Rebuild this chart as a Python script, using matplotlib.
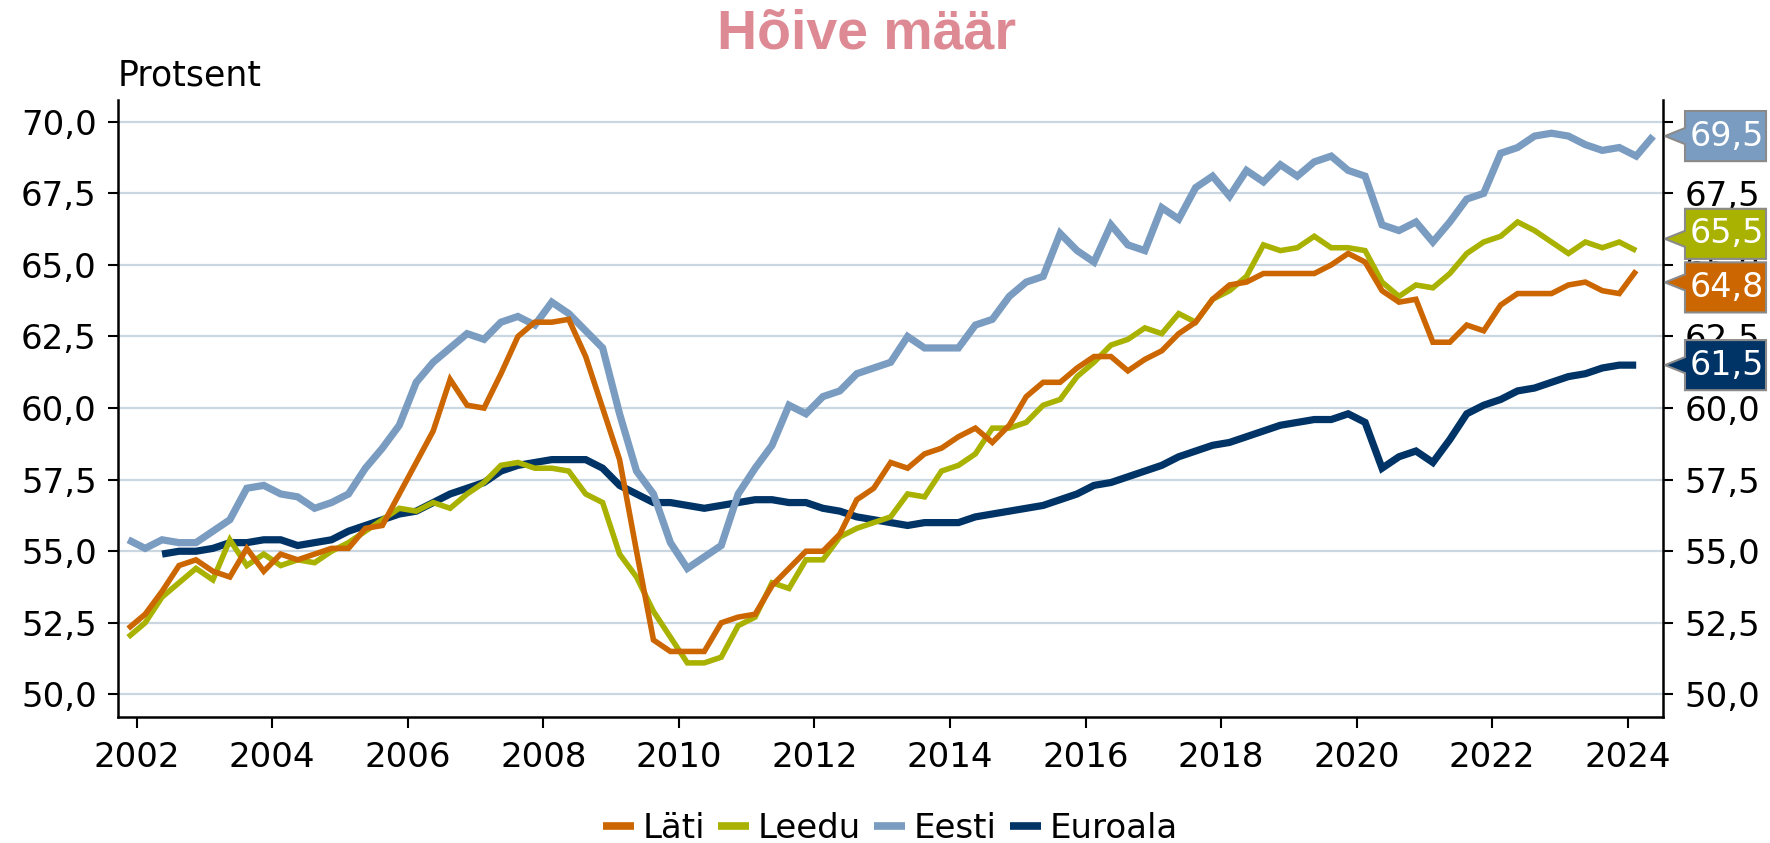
import matplotlib
matplotlib.use("Agg")
import matplotlib.pyplot as plt
from matplotlib.patches import Polygon
from matplotlib.ticker import FuncFormatter
import matplotlib.transforms as mtransforms
import pandas as pd

# ---------------- data (quarterly, employment rate %) ----------------
quarters = pd.period_range("2001Q4", "2024Q2", freq="Q")

eesti = [55.4, 55.1, 55.4, 55.3, 55.3, 55.7, 56.1, 57.2, 57.3, 57.0, 56.9, 56.5,
         56.7, 57.0, 57.9, 58.6, 59.4, 60.9, 61.6, 62.1, 62.6, 62.4, 63.0, 63.2,
         62.9, 63.7, 63.3, 62.7, 62.1, 59.8, 57.8, 57.0, 55.3, 54.4, 54.8, 55.2,
         57.0, 57.9, 58.7, 60.1, 59.8, 60.4, 60.6, 61.2, 61.4, 61.6, 62.5,
         62.1, 62.1, 62.1, 62.9, 63.1, 63.9, 64.4, 64.6, 66.1, 65.5, 65.1, 66.4,
         65.7, 65.5, 67.0, 66.6, 67.7, 68.1, 67.4, 68.3, 67.9,
         68.5, 68.1, 68.6, 68.8, 68.3, 68.1, 66.4, 66.2, 66.5, 65.8, 66.5, 67.3,
         67.5, 68.9, 69.1, 69.5, 69.6, 69.5, 69.2, 69.0, 69.1, 68.8, 69.5]

lati = [52.3, 52.8, 53.6, 54.5, 54.7, 54.3, 54.1, 55.1, 54.3, 54.9, 54.7, 54.9,
        55.1, 55.1, 55.8, 55.9, 57.0, 58.1, 59.2, 61.0, 60.1, 60.0, 61.2, 62.5,
        63.0, 63.0, 63.1, 61.8, 60.0, 58.2, 55.0, 51.9, 51.5, 51.5, 51.5, 52.5,
        52.7, 52.8, 53.8, 54.4, 55.0, 55.0, 55.6, 56.8, 57.2, 58.1, 57.9,
        58.4, 58.6, 59.0, 59.3, 58.8, 59.4, 60.4, 60.9, 60.9, 61.4, 61.8, 61.8,
        61.3, 61.7, 62.0, 62.6, 63.0, 63.8, 64.3, 64.4, 64.7,
        64.7, 64.7, 64.7, 65.0, 65.4, 65.1, 64.1, 63.7, 63.8, 62.3, 62.3, 62.9,
        62.7, 63.6, 64.0, 64.0, 64.0, 64.3, 64.4, 64.1, 64.0, 64.8]

leedu = [52.0, 52.5, 53.4, 53.9, 54.4, 54.0, 55.4, 54.5, 54.9, 54.5, 54.7, 54.6,
         55.0, 55.3, 55.7, 56.1, 56.5, 56.4, 56.7, 56.5, 57.0, 57.4, 58.0, 58.1,
         57.9, 57.9, 57.8, 57.0, 56.7, 54.9, 54.1, 52.9, 52.0, 51.1, 51.1, 51.3,
         52.4, 52.7, 53.9, 53.7, 54.7, 54.7, 55.5, 55.8, 56.0, 56.2, 57.0,
         56.9, 57.8, 58.0, 58.4, 59.3, 59.3, 59.5, 60.1, 60.3, 61.1, 61.6, 62.2,
         62.4, 62.8, 62.6, 63.3, 63.0, 63.8, 64.1, 64.6, 65.7,
         65.5, 65.6, 66.0, 65.6, 65.6, 65.5, 64.4, 63.9, 64.3, 64.2, 64.7, 65.4,
         65.8, 66.0, 66.5, 66.2, 65.8, 65.4, 65.8, 65.6, 65.8, 65.5]

euroala = [54.9, 55.0, 55.0, 55.1, 55.3, 55.3, 55.4, 55.4, 55.2, 55.3, 55.4,
           55.7, 55.9, 56.1, 56.3, 56.4, 56.7, 57.0, 57.2, 57.4, 57.8, 58.0,
           58.1, 58.2, 58.2, 58.2, 57.9, 57.3, 57.0, 56.7, 56.7, 56.6, 56.5,
           56.6, 56.7, 56.8, 56.8, 56.7, 56.7, 56.5, 56.4, 56.2, 56.1, 56.0, 55.9,
           56.0, 56.0, 56.0, 56.2, 56.3, 56.4, 56.5, 56.6, 56.8, 57.0, 57.3,
           57.4, 57.6, 57.8, 58.0, 58.3, 58.5, 58.7, 58.8, 59.0, 59.2,
           59.4, 59.5, 59.6, 59.6, 59.8, 59.5, 57.9, 58.3, 58.5, 58.1, 58.9,
           59.8, 60.1, 60.3, 60.6, 60.7, 60.9, 61.1, 61.2, 61.4, 61.5, 61.5]

series_names = ["Läti", "Leedu", "Eesti", "Euroala"]
x_ticks = list(range(2002, 2025, 2))
y_ticks = [50.0, 52.5, 55.0, 57.5, 60.0, 62.5, 65.0, 67.5, 70.0]
title = "Hõive määr"
y_unit = "Protsent"

# ---------------- styling ----------------
colors = {"Läti": "#CC6600", "Leedu": "#A9B200", "Eesti": "#7A9CC1", "Euroala": "#003366"}
widths = {"Läti": 4.0, "Leedu": 4.0, "Eesti": 5.2, "Euroala": 5.2}

# quarter mid-points as fractional years
xq = [p.year + (p.quarter - 1) / 4 + 0.125 for p in quarters]
data = {
    "Eesti": (xq, eesti),
    "Läti": (xq[:len(lati)], lati),
    "Leedu": (xq[:len(leedu)], leedu),
    "Euroala": (xq[2:2 + len(euroala)], euroala),
}

W, H = 1770, 843
fig = plt.figure(figsize=(W / 100, H / 100), dpi=100)
ax = fig.add_axes([118.3 / W, 1 - 717.3 / H, (1662.7 - 118.3) / W, (717.3 - 100) / H])

lines = {}
for name, z in [("Euroala", 3), ("Eesti", 4), ("Leedu", 5), ("Läti", 6)]:
    xs, ys = data[name]
    (ln,) = ax.plot(xs, ys, color=colors[name], lw=widths[name], zorder=z,
                    solid_joinstyle="miter", solid_capstyle="butt", label=name)
    lines[name] = ln

ax.set_xlim(2001.729, 2024.516)
ax.set_ylim(49.2, 70.76)
ax.set_xticks(x_ticks)
ax.set_yticks(y_ticks)
ax.yaxis.set_major_formatter(FuncFormatter(lambda v, p: f"{v:.1f}".replace(".", ",")))
ax.xaxis.set_major_formatter(FuncFormatter(lambda v, p: f"{int(round(v))}"))

ax.yaxis.grid(True, color="#CAD6E0", lw=1.6)
ax.set_axisbelow(True)
ax.tick_params(axis="y", left=True, right=True, labelleft=True, labelright=True,
               length=7.5, width=1.5, pad=8, labelsize=24.5, direction="out")
ax.tick_params(axis="x", length=8, width=1.5, pad=9, labelsize=24.5, direction="out")
for s in ["left", "right", "bottom"]:
    ax.spines[s].set_linewidth(1.8)
    ax.spines[s].set_color("black")
ax.spines["top"].set_visible(False)

# title and unit
fig.text(867 / W, 1 - 34.5 / H, title, ha="center", va="center", fontsize=40,
         fontweight="bold", color="#DD8A94", family=["Liberation Sans", "DejaVu Sans"])
fig.text(118 / W, 1 - 86 / H, y_unit, ha="left", va="baseline", fontsize=25)

# legend
handles = [lines[n] for n in series_names]
leg = fig.legend(handles, series_names, loc="center", bbox_to_anchor=(0.503, 1 - 828 / H),
                 ncol=4, frameon=False, fontsize=24.5, handlelength=0.9,
                 handletextpad=0.25, columnspacing=0.4, borderaxespad=0)
for lh in leg.get_lines():
    lh.set_linewidth(5.5)


# ---------------- end-value labels ----------------
def spread(vals, sep):
    order = sorted(range(len(vals)), key=lambda i: vals[i])
    pos = [vals[i] for i in order]
    for _ in range(50):
        moved = False
        for k in range(len(pos) - 1):
            d = pos[k + 1] - pos[k]
            if d < sep:
                mid = (pos[k + 1] + pos[k]) / 2
                pos[k] = mid - sep / 2
                pos[k + 1] = mid + sep / 2
                moved = True
        if not moved:
            break
    out = [0] * len(vals)
    for k, i in enumerate(order):
        out[i] = pos[k]
    return out


label_names = ["Eesti", "Leedu", "Läti", "Euroala"]
last_vals = [data[n][1][-1] for n in label_names]
tips = spread(last_vals, 1.52)
centers = spread(last_vals, 1.87)

axw = 1662.7 - 118.3
x_tip = (1665 - 118.3) / axw
x_l = (1685 - 118.3) / axw
x_r = (1766 - 118.3) / axw
half_h = 0.875
tri = 0.28
trans = mtransforms.blended_transform_factory(ax.transAxes, ax.transData)
for name, v, ty, cy in zip(label_names, last_vals, tips, centers):
    top, bot = cy + half_h, cy - half_h
    poly = Polygon([(x_tip, ty), (x_l, min(ty + tri, top)), (x_l, top), (x_r, top),
                    (x_r, bot), (x_l, bot), (x_l, max(ty - tri, bot))],
                   closed=True, transform=trans, facecolor=colors[name],
                   edgecolor="#8A8A8A", lw=1.5, clip_on=False, zorder=10)
    ax.add_patch(poly)
    ax.text((x_l + x_r) / 2 + 0.001, cy, f"{v:.1f}".replace(".", ","), transform=trans,
            ha="center", va="center", color="white", fontsize=24, zorder=11,
            clip_on=False)

fig.savefig("out.png", dpi=100)
